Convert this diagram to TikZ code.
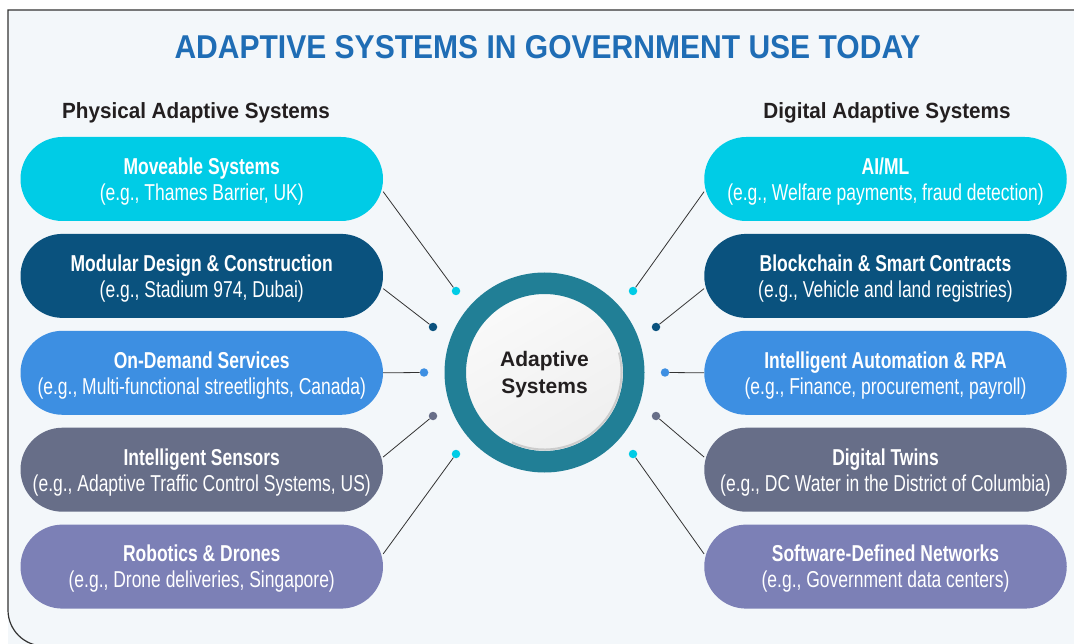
\documentclass[tikz,border=0pt]{standalone}
\usepackage{fontspec}
\setmainfont{Liberation Sans}
\newfontfamily\pillfont{Liberation Sans}[FakeStretch=0.76]
\newfontfamily\titlefont{Liberation Sans}[FakeStretch=0.91]
\newfontfamily\headfont{Liberation Sans}[FakeStretch=0.94]
\usetikzlibrary{positioning, calc}

\definecolor{cyanpill}{HTML}{00CCE6}
\definecolor{navypill}{HTML}{0A527E}
\definecolor{bluepill}{HTML}{3D8FE2}
\definecolor{slatepill}{HTML}{676E88}
\definecolor{lavpill}{HTML}{7C80B6}
\definecolor{ringteal}{HTML}{217F96}
\definecolor{titleblue}{HTML}{1F6DB5}
\definecolor{panelbg}{HTML}{F3F7FA}
\definecolor{inktext}{HTML}{231F20}

\begin{document}
\begin{tikzpicture}[
    x=1pt, y=1pt,
    node distance=12.5pt,
    pill/.style={rectangle, rounded corners=42pt, minimum width=362.5pt, minimum height=84pt, inner sep=0pt, text depth=0pt, align=center, text=white, font=\pillfont\fontsize{23}{26}\selectfont},
    heading/.style={anchor=base, text=inktext, font=\headfont\bfseries\fontsize{22}{26}\selectfont},
    hub/.style={circle, minimum size=178.5pt, draw=ringteal, line width=21.5pt, top color=gray!4, bottom color=gray!13, shading angle=30, text depth=0pt, align=center, text=inktext, font=\bfseries\fontsize{21}{27}\selectfont},
    dot/.style={circle, inner sep=0pt, minimum size=8.5pt},
    link/.style={draw=black!80, line width=0.8pt}
]
\useasboundingbox (0,0) rectangle (1074,-644);

% Panel
\fill[panelbg] (8,-10) rectangle (1200,-700);
\draw[draw=black!80, line width=1.2pt] (1200,-10) -- (8,-10) -- (8,-610) arc (180:270:36) -- (1200,-646);

% Titles
\node (title) at (547.5,-47) [text=titleblue, font=\titlefont\bfseries\fontsize{33}{36}\selectfont] {ADAPTIVE SYSTEMS IN GOVERNMENT USE TODAY};
\node (physhd) at (196,-119) [heading] {Physical Adaptive Systems};
\node (dighd) at (887,-119) [heading] {Digital Adaptive Systems};

% Physical systems
\node (m1) at (201.75,-179) [pill, fill=cyanpill] {\textbf{Moveable Systems}\\(e.g., Thames Barrier, UK)};
\node (m2) [pill, fill=navypill, below=of m1] {\textbf{Modular Design \& Construction}\\(e.g., Stadium 974, Dubai)};
\node (m3) [pill, fill=bluepill, below=of m2] {\textbf{On-Demand Services}\\(e.g., Multi-functional streetlights, Canada)};
\node (m4) [pill, fill=slatepill, below=of m3] {\textbf{Intelligent Sensors}\\(e.g., Adaptive Traffic Control Systems, US)};
\node (m5) [pill, fill=lavpill, below=of m4] {\textbf{Robotics \& Drones}\\(e.g., Drone deliveries, Singapore)};

% Digital systems
\node (r1) at (885.5,-179) [pill, fill=cyanpill] {\textbf{AI/ML}\\(e.g., Welfare payments, fraud detection)};
\node (r2) [pill, fill=navypill, below=of r1] {\textbf{Blockchain \& Smart Contracts}\\(e.g., Vehicle and land registries)};
\node (r3) [pill, fill=bluepill, below=of r2] {\textbf{Intelligent Automation \& RPA}\\(e.g., Finance, procurement, payroll)};
\node (r4) [pill, fill=slatepill, below=of r3] {\textbf{Digital Twins}\\(e.g., DC Water in the District of Columbia)};
\node (r5) [pill, fill=lavpill, below=of r4] {\textbf{Software-Defined Networks}\\(e.g., Government data centers)};

% Hub
\node (hub) at (544.5,-372.5) [hub] {Adaptive\\Systems};
\draw[gray!40, line width=2pt] ($(hub.center)+(-115:77)$) arc (-115:15:77);

% Dots
\node (dl1) at (456,-291) [dot, fill=cyanpill] {};
\node (dl2) at (433,-327) [dot, fill=navypill] {};
\node (dl3) at (424,-372.5) [dot, fill=bluepill] {};
\node (dl4) at (433,-416) [dot, fill=slatepill] {};
\node (dl5) at (456,-454) [dot, fill=cyanpill] {};
\node (dr1) at (633,-291) [dot, fill=cyanpill] {};
\node (dr2) at (656,-327) [dot, fill=navypill] {};
\node (dr3) at (665,-372.5) [dot, fill=bluepill] {};
\node (dr4) at (656,-416) [dot, fill=slatepill] {};
\node (dr5) at (633,-454) [dot, fill=cyanpill] {};

% Links
\draw[link] (dl1) -- (m1.-4);
\draw[link] (dl2) -- (m2.-4);
\draw[link] (dl3) -- (m3.east);
\draw[link] (dl4) -- (m4.4);
\draw[link] (dl5) -- (m5.4);
\draw[link] (dr1) -- (r1.184);
\draw[link] (dr2) -- (r2.184);
\draw[link] (dr3) -- (r3.west);
\draw[link] (dr4) -- (r4.176);
\draw[link] (dr5) -- (r5.176);

\end{tikzpicture}
\end{document}
